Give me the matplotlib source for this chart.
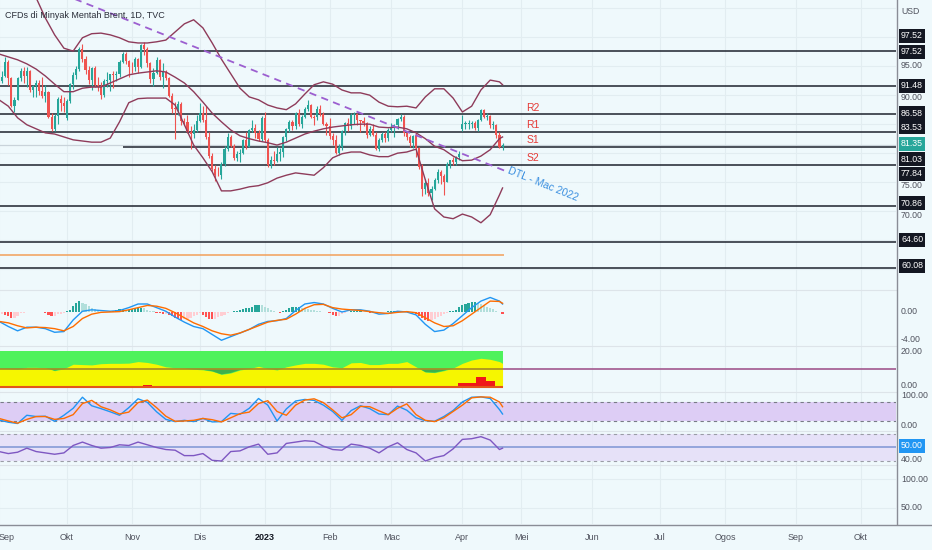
import numpy as np
import pandas as pd
import matplotlib
matplotlib.use("Agg")
import matplotlib.pyplot as plt
from matplotlib.lines import Line2D
from matplotlib.transforms import blended_transform_factory

plt.rcParams['font.family'] = ['Liberation Sans', 'DejaVu Sans']

# ---------------- data ----------------
holidays = ["2022-12-26", "2023-01-02", "2023-04-07"]
days = pd.bdate_range("2022-09-01", "2023-11-30", freq="C", holidays=holidays)

# daily candles Sep 1 2022 .. Apr 21 2023
opens = [95.6, 92.4, 93.2, 95.7, 92.8, 88.0, 89.1, 92.8, 94.0, 93.2, 94.1, 90.8, 91.4, 92.0, 90.6, 89.8, 90.5, 86.2, 84.1, 86.3, 89.3, 88.5,
         86.0, 88.9, 91.8, 93.4, 94.4, 97.9, 96.2, 94.3, 92.5, 94.6, 91.6, 91.4, 90.0, 92.4, 92.6, 93.5, 93.3, 93.5, 95.7, 97.0, 95.8,
         94.8, 94.7, 96.2, 94.7, 98.6, 97.9, 95.4, 92.7, 93.7, 96.0, 93.1, 93.9, 92.9, 89.8, 87.6, 87.5, 88.4, 85.4, 85.3, 83.6, 83.2, 83.9,
         85.4, 86.9, 85.6, 82.7, 79.4, 77.2, 76.2, 76.1, 78.0, 80.7, 82.7, 81.2, 79.0, 79.8, 80.0, 82.2, 81.0, 83.9, 84.3, 83.3, 82.3,
         85.9, 82.1, 77.8, 78.7, 78.6, 79.7, 80.1, 82.7, 84.0, 85.3, 84.5, 86.9, 85.0, 86.2, 87.6, 88.2, 86.1, 86.1, 87.5, 86.7, 84.9,
         84.5, 82.8, 82.2, 79.9, 81.0, 83.7, 85.1, 84.5, 86.4, 86.6, 85.6, 85.4, 85.1, 83.0, 84.1, 83.1, 80.6, 82.2, 83.2, 82.5,
         83.9, 84.3, 84.8, 85.8, 86.2, 83.3, 82.7, 81.6, 82.8, 80.8, 77.5, 73.7, 74.7, 73.0, 73.8, 75.3, 76.7, 75.9, 75.0, 78.1, 78.7, 78.3, 79.3,
         84.0, 84.9, 84.9, 85.0, 85.1, 84.2, 85.6, 87.3, 86.1, 86.3, 84.8, 84.8, 83.1, 81.0]
highs = [96.0, 94.0, 96.5, 95.9, 93.0, 89.6, 93.0, 94.5, 94.8, 94.7, 94.3, 91.6, 92.5, 92.6, 93.0, 91.6, 90.7, 86.9, 86.6, 89.5, 90.0, 89.5,
         89.3, 92.0, 93.9, 94.9, 98.2, 98.8, 96.6, 95.0, 94.8, 95.0, 93.0, 92.2, 92.7, 93.9, 93.6, 94.1, 94.1, 96.0, 97.3, 97.4, 96.0,
         95.6, 96.4, 96.3, 98.8, 99.0, 98.2, 95.6, 94.5, 96.5, 96.2, 95.5, 94.3, 93.0, 90.3, 88.8, 88.9, 88.7, 86.0, 86.4, 84.6, 84.9, 86.4,
         88.5, 88.0, 88.0, 83.6, 80.0, 77.9, 77.6, 78.3, 81.1, 83.3, 83.0, 81.5, 80.3, 80.7, 82.4, 83.6, 84.1, 85.6, 84.9, 83.9, 86.3,
         87.0, 82.5, 79.4, 80.3, 81.0, 80.8, 82.8, 84.3, 85.6, 85.7, 87.0, 87.6, 86.4, 87.8, 89.1, 88.4, 86.5, 88.0, 88.2, 87.0, 85.3,
         85.9, 83.4, 83.0, 81.5, 83.9, 85.3, 86.0, 86.9, 87.0, 86.8, 85.7, 86.1, 85.2, 84.5, 84.9, 83.5, 82.5, 83.6, 83.5, 84.2,
         85.1, 85.0, 86.0, 86.7, 86.4, 83.6, 83.0, 83.0, 83.5, 81.0, 78.0, 75.4, 75.6, 74.2, 75.6, 77.1, 77.0, 76.3, 78.3, 78.8, 79.2, 79.4, 80.3,
         86.4, 85.5, 85.6, 85.5, 85.4, 85.8, 87.5, 87.5, 86.9, 86.4, 85.4, 85.0, 83.5, 81.6]
lows = [92.0, 92.0, 93.0, 91.6, 87.9, 87.0, 89.0, 92.3, 92.0, 91.3, 90.5, 89.6, 89.5, 90.0, 89.4, 88.7, 85.9, 83.7, 83.7, 85.0, 87.2, 87.0,
        85.6, 88.5, 91.0, 92.7, 94.0, 95.6, 93.5, 91.9, 90.8, 91.3, 90.6, 89.3, 89.5, 91.3, 90.7, 91.2, 92.4, 93.0, 95.5, 95.2, 93.0,
        93.7, 94.0, 93.8, 94.5, 96.8, 94.8, 92.0, 91.5, 93.5, 92.6, 91.2, 92.5, 89.5, 86.8, 82.3, 86.5, 84.7, 84.8, 83.3, 80.6, 82.5, 83.6,
        85.2, 85.3, 82.4, 79.0, 76.8, 75.1, 75.9, 75.5, 77.7, 80.2, 80.9, 78.7, 78.6, 78.3, 79.8, 80.6, 80.9, 83.6, 82.6, 82.0, 82.0,
        81.8, 77.6, 77.3, 77.8, 78.4, 78.5, 79.2, 82.0, 83.5, 83.9, 84.1, 84.6, 84.3, 85.9, 87.1, 85.9, 84.8, 85.7, 86.3, 84.7, 83.0,
        82.4, 81.3, 79.7, 79.6, 80.5, 83.0, 83.8, 84.0, 85.0, 84.8, 83.5, 84.5, 82.6, 82.9, 82.8, 80.4, 80.2, 81.9, 81.8, 82.0,
        83.5, 82.7, 84.0, 85.4, 82.9, 82.1, 80.9, 80.8, 79.3, 77.2, 72.6, 72.9, 72.5, 71.9, 73.5, 74.7, 74.5, 72.7, 74.9, 77.4, 77.9, 77.8, 78.8,
        83.8, 84.0, 84.1, 84.2, 83.9, 83.7, 85.4, 86.0, 85.7, 84.2, 84.1, 82.6, 80.8, 80.5]
closes = [92.4, 93.0, 95.7, 92.8, 88.0, 89.1, 92.8, 94.0, 93.2, 94.1, 90.8, 91.4, 92.0, 90.6, 89.8, 90.5, 86.2, 84.1, 86.3, 89.3, 88.5, 88.0,
          88.9, 91.8, 93.4, 94.4, 97.9, 96.2, 94.3, 92.5, 94.6, 91.6, 91.4, 90.0, 92.4, 92.6, 93.5, 93.3, 93.5, 95.7, 97.0, 95.8, 94.8,
          94.7, 96.2, 94.7, 98.6, 97.9, 95.4, 92.7, 93.7, 96.0, 93.1, 93.9, 92.9, 89.8, 87.6, 87.5, 88.4, 85.4, 85.3, 83.6, 83.2, 83.9, 85.4,
          86.9, 85.6, 82.7, 79.4, 77.2, 76.2, 76.1, 78.0, 80.7, 82.7, 81.2, 79.0, 79.8, 80.0, 82.2, 81.0, 83.9, 84.3, 83.3, 82.3, 85.9,
          82.1, 77.8, 78.7, 78.6, 79.7, 80.1, 82.7, 84.0, 85.3, 84.5, 86.9, 85.0, 86.2, 87.6, 88.2, 86.1, 86.0, 87.5, 86.7, 84.9, 84.5,
          82.8, 82.2, 79.9, 81.0, 83.7, 85.1, 84.5, 86.4, 86.6, 85.6, 85.4, 85.1, 83.0, 84.1, 83.1, 80.6, 82.2, 83.2, 82.5, 83.9,
          84.3, 84.8, 85.8, 86.2, 83.3, 82.7, 81.6, 82.8, 80.8, 77.5, 73.7, 74.7, 73.0, 73.8, 75.3, 76.7, 75.9, 75.0, 78.1, 78.7, 78.3, 79.3, 79.8,
          84.9, 84.9, 85.0, 85.1, 84.2, 85.6, 87.3, 86.1, 86.3, 84.8, 84.8, 83.1, 81.0, 81.35]

# indicator readings, one every 3rd bar plus the last bar
ind_bars = list(range(0, 163, 3)) + [163]
bb_upper = [111.2, 111.1, 110.1, 108.7, 106.7, 103.2, 100.3, 98.0, 97.5, 99.8, 100.5, 100.6, 100.3, 99.8, 99.1, 98.9, 98.9, 99.1, 99.4,
            100.8, 102.2, 102.9, 101.5, 98.9, 96.1, 93.6, 91.1, 89.6, 89.1, 88.2, 87.7, 87.4, 88.4, 90.1, 91.7, 92.2, 91.8, 90.8, 90.3,
            90.3, 89.9, 88.7, 88.0, 87.9, 88.0, 87.7, 89.6, 91.0, 91.0, 89.4, 87.0, 88.0, 90.8, 92.5, 92.2, 91.7]
bb_mid = [97.0, 96.5, 96.0, 95.3, 94.4, 93.2, 91.8, 90.5, 90.5, 91.1, 91.3, 91.3, 92.0, 92.7, 93.4, 93.7, 93.9, 94.1, 93.9, 93.0, 92.0,
          90.5, 88.7, 86.8, 85.3, 83.9, 82.9, 82.4, 82.0, 81.7, 81.3, 81.8, 82.5, 83.2, 83.7, 84.1, 84.4, 84.6, 84.8, 84.9, 84.9, 84.4,
          84.3, 84.4, 84.1, 83.4, 82.4, 81.1, 80.5, 79.4, 78.6, 78.7, 79.4, 80.5, 82.4, 82.7]
bb_lower = [89.1, 88.0, 86.0, 84.8, 84.1, 83.4, 83.2, 82.7, 82.2, 82.0, 81.8, 81.8, 82.5, 85.3, 88.6, 89.3, 89.4, 89.4, 89.4, 88.2, 84.8,
            81.3, 79.1, 76.7, 73.4, 73.4, 73.7, 74.1, 74.3, 74.8, 75.6, 76.1, 76.5, 76.3, 76.1, 77.4, 79.1, 79.8, 80.1, 80.1, 79.6, 79.3,
            79.3, 79.9, 80.1, 80.6, 75.3, 70.3, 68.9, 68.6, 69.4, 68.9, 67.9, 69.3, 72.7, 73.9]
macd_line = [-1.3, -2.0, -2.6, -2.1, -2.1, -2.3, -2.8, -2.7, -1.1, 0.1, 0.3, 0.2, 0.1, 0.2, 0.6, 1.1, 1.1, 0.6, 0.1, -0.7, -1.4, -2.0,
             -2.3, -3.1, -3.9, -3.4, -2.9, -2.4, -1.7, -1.3, -1.2, -0.9, 0.2, 1.1, 1.3, 1.1, 0.5, 0.0, 0.3, 0.3, 0.1, -0.3, -0.2, 0.1,
             0.0, -0.4, -1.7, -2.7, -2.5, -1.6, -0.5, 0.6, 1.5, 2.0, 1.5, 1.1]
signal_line = [-1.3, -1.5, -1.9, -2.2, -2.1, -2.15, -2.3, -2.6, -2.0, -0.9, -0.3, -0.05, 0.0, 0.05, 0.3, 0.6, 0.9, 0.8, 0.5, -0.1, -0.8,
               -1.5, -2.0, -2.6, -3.0, -3.2, -2.9, -2.4, -1.9, -1.4, -1.15, -1.0, -0.3, 0.5, 1.0, 1.05, 0.6, 0.4, 0.3, 0.2, 0.05, -0.1,
               -0.2, -0.05, 0.05, -0.1, -0.8, -1.5, -2.0, -1.9, -1.2, -0.3, 0.6, 1.5, 1.45, 1.2]
macd_hist = [-0.3, -0.3, -0.4, -0.6, -0.8, -0.8, -0.5, -0.2, -0.1, 0.0, 0.05, 0.05, 0.0, 0.05, 0.0, -0.1, -0.4, -0.6, -0.5, -0.3, -0.3, -0.2,
             0.1, 0.3, 0.8, 1.2, 1.5, 1.3, 1.1, 0.8, 0.6, 0.4, 0.2, 0.05, 0.05, 0.05, 0.1, 0.2, 0.3, 0.35, 0.4, 0.3, 0.3, 0.4, 0.5, 0.6,
             0.6, 0.5, 0.3, 0.2, 0.1, -0.1, -0.2, -0.3, -0.3, -0.4, -0.6, -0.8, -1.0, -1.1, -1.0, -0.9, -0.8, -0.6, -0.4, -0.2, -0.4, -0.7,
             -0.9, -1.0, -0.9, -0.7, -0.5, -0.4, -0.2, 0.05, 0.1, 0.1, 0.3, 0.4, 0.5, 0.6, 0.7, 0.9, 1.0, 0.9, 0.7, 0.5, 0.3, 0.2, -0.05,
             -0.1, 0.1, 0.3, 0.5, 0.7, 0.7, 0.7, 0.6, 0.5, 0.4, 0.3, 0.25, 0.2, 0.1, 0.05, 0.0, -0.1, -0.4, -0.5, -0.5, -0.3, -0.2, 0.05,
             0.1, 0.1, 0.1, 0.1, 0.05, 0.0, -0.1, -0.1, -0.1, -0.05, 0.0, 0.05, 0.1, 0.1, 0.2, 0.2, 0.15, 0.1, 0.05, 0.0, -0.1, -0.3, -0.5,
             -0.8, -1.1, -1.2, -1.1, -1.0, -0.7, -0.5, -0.3, -0.1, 0.1, 0.1, 0.3, 0.7, 0.9, 1.1, 1.3, 1.4, 1.4, 1.3, 1.1, 0.9, 0.7, 0.5,
             0.35, 0.2, 0.05, -0.3]
trend_level = [10.7, 10.5, 10.2, 11.2, 11.2, 11.0, 9.3, 10.4, 13.0, 12.8, 12.6, 13.3, 13.5, 13.5, 13.6, 14.5, 14.0, 13.0, 11.5, 11.0,
               10.8, 10.1, 9.8, 9.0, 7.2, 8.0, 9.7, 10.5, 11.8, 10.5, 9.7, 11.5, 12.6, 13.5, 13.5, 13.0, 11.5, 11.0, 13.8, 14.0, 12.8,
               12.8, 13.5, 13.5, 14.5, 11.5, 8.5, 8.2, 9.3, 10.8, 13.5, 15.4, 16.4, 15.8, 14.5, 13.5]
bear_level = [0, 0, 0, 0, 0, 0, 0, 0, 0, 0, 0, 0, 0, 0, 0, 0, 1.2, 0, 0, 0, 0, 0, 0, 0, 0, 0, 0, 0, 0, 0, 0, 0, 0, 0, 0, 0, 0, 0,
              0, 0, 0, 0, 0, 0, 0, 0, 0, 0, 0, 0, 2.0, 2.3, 5.5, 3.5, 0, 0]
stoch_k = [23, 16, 12, 38, 34, 35, 19, 38, 60, 95, 68, 59, 49, 38, 62, 90, 79, 49, 25, 18, 22, 18, 28, 17, 18, 44, 41, 60, 91, 70,
           20, 58, 83, 88, 85, 70, 50, 22, 53, 68, 59, 42, 40, 67, 54, 30, 21, 19, 34, 53, 80, 95, 96, 91, 56, 42]
stoch_d = [28, 20, 13, 25, 34, 34, 25, 28, 40, 75, 85, 65, 55, 42, 48, 78, 86, 62, 35, 19, 20, 22, 28, 24, 17, 30, 43, 48, 75, 84,
           50, 38, 70, 86, 90, 78, 55, 30, 40, 66, 65, 52, 40, 60, 74, 40, 22, 18, 30, 50, 70, 93, 96, 95, 80, 65]
rsi = [44, 41, 43, 49, 44, 42, 40, 42, 53, 58, 53, 49, 50, 54, 53, 58, 54, 50, 47, 46, 38, 38, 41, 31, 30, 44, 45, 51, 55, 40,
       42, 56, 58, 60, 59, 52, 47, 46, 55, 53, 49, 42, 51, 57, 47, 42, 30, 35, 38, 48, 62, 63, 66, 61, 47, 49]

levels = [97.52, 91.48, 86.58, 83.53, 77.84, 70.86, 64.60, 60.08]
s1_level = 81.03
last_price = 81.35
orange_level = 62.35
rs_names = ["R2", "R1", "S1", "S2"]
rs_levels = [86.58, 83.53, 81.03, 77.84]
dtl_bars = [0, 165]
dtl_prices = [111.7, 76.6]
month_names = ["Sep", "Okt", "Nov", "Dis", "2023", "Feb", "Mac", "Apr", "Mei", "Jun", "Jul", "Ogos", "Sep", "Okt", "Nov"]

# ---------------- layout ----------------
W, H = 932, 550
bg = "#eff9fc"
grid = "#e2edf1"
X0, X1 = 0.311, 290.37
fig = plt.figure(figsize=(W / 100, H / 100), dpi=100, facecolor=bg)

bar_x = np.arange(len(closes))
ind_x = np.array(ind_bars)
month_pos = [i for i in range(len(days)) if i == 0 or days[i].month != days[i - 1].month]


def pane(top, bottom, ylim):
    a = fig.add_axes([0, 1 - bottom / H, 896 / W, (bottom - top) / H])
    a.set_facecolor(bg)
    a.set_xlim(X0, X1)
    a.set_ylim(*ylim)
    for s in a.spines.values():
        s.set_visible(False)
    a.set_xticks([])
    a.set_yticks([])
    for m in month_pos:
        a.axvline(m, color=grid, lw=0.8, zorder=0)
    return a


# main price pane
ax = pane(0, 290, (56.31, 106.31))
for p in range(60, 106, 5):
    ax.axhline(p, color=grid, lw=0.8, zorder=0)
o, h, l, c = map(np.array, (opens, highs, lows, closes))
col = np.where(c >= o, "#26a69a", "#ef5350")
ax.vlines(bar_x, l, h, colors=col, lw=0.8, zorder=3)
ax.bar(bar_x, np.maximum(np.abs(c - o), 0.12), bottom=np.minimum(o, c), width=0.68, color=col, lw=0, zorder=3)
for band in (bb_upper, bb_mid, bb_lower):
    ax.plot(ind_x, band, color="#8e3b5a", lw=1.0, zorder=4)
for lv in levels:
    ax.axhline(lv, color="#1e222d", lw=1.1, zorder=2)
ax.axhline(last_price, color="#c9d3da", lw=0.9, zorder=1)
ax.hlines(s1_level, 40, X1, color="#1e222d", lw=1.1, zorder=2)
ax.hlines(orange_level, X0, 163.5, color="#f2a05a", lw=1.1, zorder=2)
ax.plot(dtl_bars, dtl_prices, color="#9c5fd0", lw=1.3, dashes=(4, 3), zorder=5)
for name, lv in zip(rs_names, rs_levels):
    ax.annotate(name, (172.9, lv), xytext=(0, 1.2), textcoords="offset points",
                ha="center", va="bottom", color="#e53935", fontsize=7.5)
ax.text(176.1, 74.6, "DTL - Mac 2022", color="#3a8fe0", fontsize=7.6, rotation=-22,
        ha="center", va="center", rotation_mode="anchor")

# MACD pane
am = pane(290, 346, (-4.69, 3.03))
hcol = []
for i, v in enumerate(macd_hist):
    prev = macd_hist[i - 1] if i > 0 else v
    if v >= 0:
        hcol.append("#26a69a" if v >= prev else "#b2dfdb")
    else:
        hcol.append("#ff5252" if v < prev else "#ffcdd2")
am.bar(bar_x, macd_hist, width=0.7, color=hcol, lw=0, zorder=2)
am.plot(ind_x, macd_line, color="#2196f3", lw=1.0, zorder=3)
am.plot(ind_x, signal_line, color="#ff6d00", lw=1.0, zorder=3)

# trend pane
ag = pane(346, 392, (-2.86, 23.4))
ag.axhline(10, color="#a2578e", lw=1.2, zorder=1)
tl = np.array(trend_level)
ag.fill_between(ind_x, 0, 20.5, color="#4ef25c", lw=0, zorder=2)
ag.fill_between(ind_x, 0, tl, color="#f6f600", lw=0, zorder=3)
ag.fill_between(ind_x, tl, 10, where=tl < 10, interpolate=True, color="#3fb04c", lw=0, zorder=3)
ag.hlines(10, X0, 163, color="#a58a24", lw=1.2, zorder=4)
ag.fill_between(ind_x, 0, bear_level, step="mid", color="#f01818", lw=0, zorder=4)
ag.hlines(0, X0, 163, color="#e2561c", lw=1.5, zorder=5)

# stochastic pane
ast = pane(392, 431, (-11.7, 111.5))
ast.axhspan(20, 80, color="#ddcdf5", lw=0, zorder=1)
for lv in (20, 80):
    ast.axhline(lv, color="#787b86", lw=0.8, dashes=(3, 3), zorder=2)
ast.plot(ind_x, stoch_k, color="#2196f3", lw=1.0, zorder=3)
ast.plot(ind_x, stoch_d, color="#ff6d00", lw=1.0, zorder=3)

# RSI pane
ar = pane(431, 465, (24.1, 74.4))
ar.axhspan(30, 70, color="#e6e1f8", lw=0, zorder=1)
for lv in (30, 70):
    ar.axhline(lv, color="#9a9ca6", lw=0.8, dashes=(3, 3), zorder=2)
ar.axhline(50, color="#93a5dc", lw=1.4, zorder=2)
ar.plot(ind_x, rsi, color="#7e57c2", lw=1.0, zorder=3)

# empty bottom pane + time labels
ae = pane(465, 524, (22.4, 124))
for lv in (50, 100):
    ae.axhline(lv, color=grid, lw=0.8, zorder=0)
tr = blended_transform_factory(ae.transData, ae.transAxes)
for m, name in zip(month_pos, month_names):
    if m <= X1:
        bold = name == "2023"
        ae.text(max(m, 2.4), -13 / 59, name, transform=tr, ha="center", va="center", fontsize=6.5,
                color="#131722" if bold else "#50535e", fontweight="bold" if bold else "normal", clip_on=False)

# pane separators and axis borders
for y in (290, 346, 392, 431, 465):
    fig.add_artist(Line2D([0, 896 / W], [1 - y / H] * 2, color="#dde4e9", lw=0.8))
fig.add_artist(Line2D([896.5 / W] * 2, [1, 1 - 524 / H], color="#8a8d96", lw=1))
fig.add_artist(Line2D([0, 1], [1 - 524.5 / H] * 2, color="#8a8d96", lw=1))

# title
fig.text(5 / W, 1 - 15 / H, "CFDs di Minyak Mentah Brent, 1D, TVC", fontsize=6.5, color="#2a2e39", va="center", ha="left")

# right price scale
def rlabel(txt, y, fc=None, color="#50535e"):
    kw = {}
    if fc is not None:
        kw["bbox"] = dict(boxstyle="square,pad=0.25", fc=fc, ec="none")
        color = "white"
    fig.text(901 / W, 1 - y / H, txt, fontsize=6.3, color=color, va="center", ha="left", **kw)


for txt, y in [("USD", 12), ("95.00", 65), ("90.00", 97), ("75.00", 186), ("70.00", 215),
               ("0.00", 312), ("-4.00", 340), ("20.00", 352), ("0.00", 385), ("100.00", 395),
               ("0.00", 426), ("40.00", 459), ("100.00", 479), ("50.00", 508)]:
    rlabel(txt, y)
box_labels = ["97.52", "97.52", "91.48", "86.58", "83.53", "81.03", "77.84", "70.86", "64.60", "60.08"]
box_y = [36, 52, 86, 113, 127, 159, 174, 203, 240, 266]
for txt, y in zip(box_labels, box_y):
    rlabel(txt, y, fc="#131722")
rlabel(f"{last_price:.2f}", 144, fc="#26a69a")
rlabel("50.00", 446, fc="#2196f3")

fig.savefig("out.png", dpi=100, facecolor=bg)
